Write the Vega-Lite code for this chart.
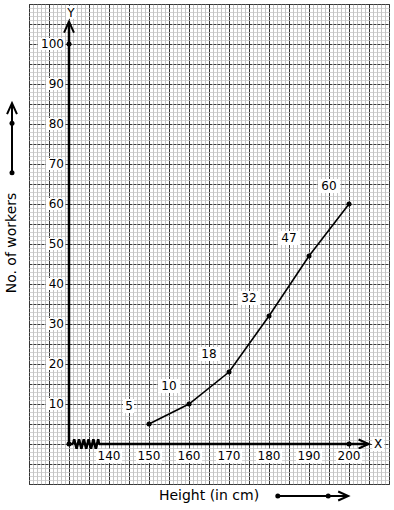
{
  "$schema": "https://vega.github.io/schema/vega-lite/v6.json",
  "width": 360,
  "height": 480,
  "autosize": "none",
  "padding": {"left": 29, "top": 4, "right": 5, "bottom": 26},
  "background": "white",
  "resolve": {"axis": {"x": "independent", "y": "independent"}},
  "config": {
    "view": {"stroke": "#333", "strokeWidth": 1},
    "text": {"font": "DejaVu Sans", "fontSize": 12, "color": "black"}
  },
  "datasets": {
    "pts": [
      {"h": 150, "n": 5}, {"h": 160, "n": 10}, {"h": 170, "n": 18},
      {"h": 180, "n": 32}, {"h": 190, "n": 47}, {"h": 200, "n": 60}
    ],
    "dots": [
      {"h": 130, "n": 0}, {"h": 130, "n": 100}, {"h": 200, "n": 0},
      {"h": 182.2, "n": -13}, {"h": 194.8, "n": -13},
      {"h": 115.75, "n": 67.8}, {"h": 115.75, "n": 80.2}
    ],
    "upArr": [{"h": 130, "n": 105.6}, {"h": 115.75, "n": 85.2}],
    "rightArr": [{"h": 204.9, "n": 0}, {"h": 199.8, "n": -13}],
    "zig": [
      {"h": 131, "n": 0}, {"h": 131.3, "n": 1.2}, {"h": 131.9, "n": -1.2},
      {"h": 132.5, "n": 1.2}, {"h": 133.1, "n": -1.2}, {"h": 133.7, "n": 1.2},
      {"h": 134.3, "n": -1.2}, {"h": 134.9, "n": 1.2}, {"h": 135.5, "n": -1.2},
      {"h": 136.1, "n": 1.2}, {"h": 136.7, "n": -1.2}, {"h": 137.3, "n": 1.2},
      {"h": 137.5, "n": 0}
    ],
    "ylab": [
      {"v": 10}, {"v": 20}, {"v": 30}, {"v": 40}, {"v": 50},
      {"v": 60}, {"v": 70}, {"v": 80}, {"v": 90}, {"v": 100}
    ],
    "xlab": [
      {"v": 140}, {"v": 150}, {"v": 160}, {"v": 170}, {"v": 180}, {"v": 190}, {"v": 200}
    ],
    "one": [{}]
  },
  "layer": [
    {
      "data": {"name": "pts"},
      "mark": {"type": "line", "color": "black", "strokeWidth": 1.6},
      "encoding": {
        "x": {
          "field": "h", "type": "quantitative",
          "scale": {"domain": [120, 210], "nice": false, "zero": false},
          "axis": {
            "values": [120,121,122,123,124,125,126,127,128,129,130,131,132,133,134,135,136,137,138,139,140,141,142,143,144,145,146,147,148,149,150,151,152,153,154,155,156,157,158,159,160,161,162,163,164,165,166,167,168,169,170,171,172,173,174,175,176,177,178,179,180,181,182,183,184,185,186,187,188,189,190,191,192,193,194,195,196,197,198,199,200,201,202,203,204,205,206,207,208,209,210],
            "labels": false, "ticks": false, "domain": false, "title": null,
            "grid": true, "gridOpacity": 1, "gridWidth": 1,
            "gridColor": {"condition": {"test": "datum.value % 5 === 0", "value": "#333333"}, "value": "#c4c4c4"}
          }
        },
        "y": {
          "field": "n", "type": "quantitative",
          "scale": {"domain": [-10, 110], "nice": false, "zero": false},
          "axis": {
            "values": [-10,-9,-8,-7,-6,-5,-4,-3,-2,-1,0,1,2,3,4,5,6,7,8,9,10,11,12,13,14,15,16,17,18,19,20,21,22,23,24,25,26,27,28,29,30,31,32,33,34,35,36,37,38,39,40,41,42,43,44,45,46,47,48,49,50,51,52,53,54,55,56,57,58,59,60,61,62,63,64,65,66,67,68,69,70,71,72,73,74,75,76,77,78,79,80,81,82,83,84,85,86,87,88,89,90,91,92,93,94,95,96,97,98,99,100,101,102,103,104,105,106,107,108,109,110],
            "labels": false, "ticks": false, "domain": false, "title": null,
            "grid": true, "gridOpacity": 1, "gridWidth": 1,
            "gridColor": {"condition": {"test": "datum.value % 5 === 0", "value": "#3a3a3a"}, "value": "#c4c4c4"},
            "gridDash": {"condition": {"test": "datum.value % 5 === 0", "value": [3, 1]}, "value": [1, 0]}
          }
        }
      }
    },
    {
      "data": {"name": "one"},
      "mark": {"type": "rule", "color": "black", "strokeWidth": 2.5},
      "encoding": {
        "x": {"datum": 130, "type": "quantitative", "axis": null},
        "y": {"datum": 0, "type": "quantitative", "axis": null},
        "y2": {"datum": 105.6}
      }
    },
    {
      "data": {"name": "one"},
      "mark": {"type": "rule", "color": "black", "strokeWidth": 2.5},
      "encoding": {
        "x": {"datum": 130, "type": "quantitative", "axis": null},
        "x2": {"datum": 131},
        "y": {"datum": 0, "type": "quantitative", "axis": null}
      }
    },
    {
      "data": {"name": "one"},
      "mark": {"type": "rule", "color": "black", "strokeWidth": 2.5},
      "encoding": {
        "x": {"datum": 137.5, "type": "quantitative", "axis": null},
        "x2": {"datum": 204.9},
        "y": {"datum": 0, "type": "quantitative", "axis": null}
      }
    },
    {
      "data": {"name": "one"},
      "mark": {"type": "rule", "color": "black", "strokeWidth": 2},
      "encoding": {
        "x": {"datum": 182.2, "type": "quantitative", "axis": null},
        "x2": {"datum": 199.8},
        "y": {"datum": -13, "type": "quantitative", "axis": null}
      }
    },
    {
      "data": {"name": "one"},
      "mark": {"type": "rule", "color": "black", "strokeWidth": 2},
      "encoding": {
        "x": {"datum": 115.75, "type": "quantitative", "axis": null},
        "y": {"datum": 67.8, "type": "quantitative", "axis": null},
        "y2": {"datum": 85.2}
      }
    },
    {
      "data": {"name": "zig"},
      "mark": {"type": "line", "color": "black", "strokeWidth": 2.5},
      "encoding": {
        "x": {"field": "h", "type": "quantitative", "axis": null},
        "y": {"field": "n", "type": "quantitative", "axis": null}
      }
    },
    {
      "data": {"name": "upArr"},
      "mark": {"type": "point", "shape": "M-0.9,2L0,0L0.9,2", "size": 121, "filled": false, "stroke": "black", "strokeWidth": 2, "opacity": 1},
      "encoding": {
        "x": {"field": "h", "type": "quantitative", "axis": null},
        "y": {"field": "n", "type": "quantitative", "axis": null}
      }
    },
    {
      "data": {"name": "rightArr"},
      "mark": {"type": "point", "shape": "M-2,-0.9L0,0L-2,0.9", "size": 100, "filled": false, "stroke": "black", "strokeWidth": 2, "opacity": 1},
      "encoding": {
        "x": {"field": "h", "type": "quantitative", "axis": null},
        "y": {"field": "n", "type": "quantitative", "axis": null}
      }
    },
    {
      "data": {"name": "pts"},
      "mark": {"type": "point", "filled": true, "color": "black", "size": 25, "opacity": 1},
      "encoding": {
        "x": {"field": "h", "type": "quantitative", "axis": null},
        "y": {"field": "n", "type": "quantitative", "axis": null}
      }
    },
    {
      "data": {"name": "dots"},
      "mark": {"type": "point", "filled": true, "color": "black", "size": 25, "opacity": 1},
      "encoding": {
        "x": {"field": "h", "type": "quantitative", "axis": null},
        "y": {"field": "n", "type": "quantitative", "axis": null}
      }
    },
    {
      "data": {"name": "ylab"},
      "transform": [{"filter": "datum.v < 100"}],
      "mark": {"type": "rect", "color": "white", "xOffset": -23, "x2Offset": -4, "yOffset": -6, "y2Offset": 6},
      "encoding": {
        "x": {"datum": 130, "type": "quantitative", "axis": null},
        "x2": {"datum": 130},
        "y": {"field": "v", "type": "quantitative", "axis": null},
        "y2": {"field": "v"}
      }
    },
    {
      "data": {"name": "ylab"},
      "transform": [{"filter": "datum.v >= 100"}],
      "mark": {"type": "rect", "color": "white", "xOffset": -31, "x2Offset": -4, "yOffset": -6, "y2Offset": 6},
      "encoding": {
        "x": {"datum": 130, "type": "quantitative", "axis": null},
        "x2": {"datum": 130},
        "y": {"field": "v", "type": "quantitative", "axis": null},
        "y2": {"field": "v"}
      }
    },
    {
      "data": {"name": "xlab"},
      "mark": {"type": "rect", "color": "white", "xOffset": -13, "x2Offset": 13, "yOffset": 5, "y2Offset": 19},
      "encoding": {
        "x": {"field": "v", "type": "quantitative", "axis": null},
        "x2": {"field": "v"},
        "y": {"datum": 0, "type": "quantitative", "axis": null},
        "y2": {"datum": 0}
      }
    },
    {
      "data": {"name": "pts"},
      "transform": [{"filter": "datum.n >= 10"}],
      "mark": {"type": "rect", "color": "white", "xOffset": -31, "x2Offset": -9, "yOffset": -25, "y2Offset": -11},
      "encoding": {
        "x": {"field": "h", "type": "quantitative", "axis": null},
        "x2": {"field": "h"},
        "y": {"field": "n", "type": "quantitative", "axis": null},
        "y2": {"field": "n"}
      }
    },
    {
      "data": {"name": "pts"},
      "transform": [{"filter": "datum.n < 10"}],
      "mark": {"type": "rect", "color": "white", "xOffset": -26, "x2Offset": -15, "yOffset": -25, "y2Offset": -11},
      "encoding": {
        "x": {"field": "h", "type": "quantitative", "axis": null},
        "x2": {"field": "h"},
        "y": {"field": "n", "type": "quantitative", "axis": null},
        "y2": {"field": "n"}
      }
    },
    {
      "data": {"name": "one"},
      "mark": {"type": "rect", "color": "white", "xOffset": -3, "x2Offset": 7, "yOffset": -7, "y2Offset": 6},
      "encoding": {
        "x": {"datum": 130, "type": "quantitative", "axis": null},
        "x2": {"datum": 130},
        "y": {"datum": 107.8, "type": "quantitative", "axis": null},
        "y2": {"datum": 107.8}
      }
    },
    {
      "data": {"name": "one"},
      "mark": {"type": "rect", "color": "white", "xOffset": -6, "x2Offset": 6, "yOffset": -7, "y2Offset": 7},
      "encoding": {
        "x": {"datum": 207.3, "type": "quantitative", "axis": null},
        "x2": {"datum": 207.3},
        "y": {"datum": 0, "type": "quantitative", "axis": null},
        "y2": {"datum": 0}
      }
    },
    {
      "data": {"name": "ylab"},
      "mark": {"type": "text", "align": "right", "baseline": "middle", "dx": -5},
      "encoding": {
        "x": {"datum": 130, "type": "quantitative", "axis": null},
        "y": {"field": "v", "type": "quantitative", "axis": null},
        "text": {"field": "v", "type": "quantitative"}
      }
    },
    {
      "data": {"name": "xlab"},
      "mark": {"type": "text", "align": "center", "baseline": "middle", "dy": 12},
      "encoding": {
        "x": {"field": "v", "type": "quantitative", "axis": null},
        "y": {"datum": 0, "type": "quantitative", "axis": null},
        "text": {"field": "v", "type": "quantitative"}
      }
    },
    {
      "data": {"name": "pts"},
      "mark": {"type": "text", "align": "center", "baseline": "middle", "dx": -20, "dy": -18},
      "encoding": {
        "x": {"field": "h", "type": "quantitative", "axis": null},
        "y": {"field": "n", "type": "quantitative", "axis": null},
        "text": {"field": "n", "type": "quantitative"}
      }
    },
    {
      "data": {"name": "one"},
      "mark": {"type": "text", "align": "center", "baseline": "middle", "dx": 2, "text": "Y"},
      "encoding": {
        "x": {"datum": 130, "type": "quantitative", "axis": null},
        "y": {"datum": 107.8, "type": "quantitative", "axis": null}
      }
    },
    {
      "data": {"name": "one"},
      "mark": {"type": "text", "align": "center", "baseline": "middle", "text": "X"},
      "encoding": {
        "x": {"datum": 207.3, "type": "quantitative", "axis": null},
        "y": {"datum": 0, "type": "quantitative", "axis": null}
      }
    },
    {
      "data": {"name": "one"},
      "mark": {"type": "text", "align": "center", "baseline": "middle", "fontSize": 14, "text": "Height (in cm)"},
      "encoding": {
        "x": {"datum": 165, "type": "quantitative", "axis": null},
        "y": {"datum": -13, "type": "quantitative", "axis": null}
      }
    },
    {
      "data": {"name": "one"},
      "mark": {"type": "text", "align": "center", "baseline": "middle", "fontSize": 14, "angle": 270, "text": "No. of workers"},
      "encoding": {
        "x": {"datum": 115.75, "type": "quantitative", "axis": null},
        "y": {"datum": 50.25, "type": "quantitative", "axis": null}
      }
    }
  ]
}
